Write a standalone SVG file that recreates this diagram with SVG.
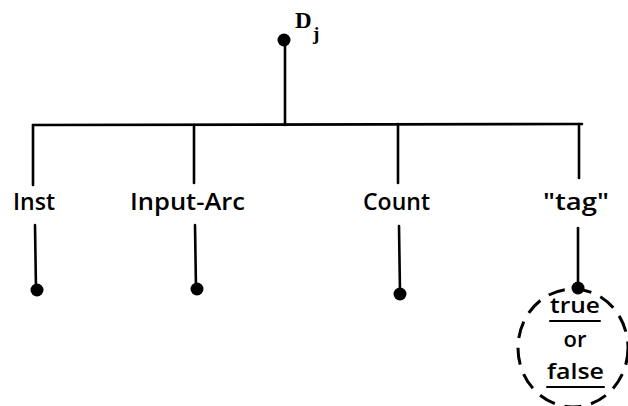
<svg xmlns="http://www.w3.org/2000/svg" width="628" height="406" viewBox="0 0 628 406">
<style>
.ln{stroke:#000;stroke-width:2.6;fill:none;stroke-linecap:round}
.dot{fill:#000}
.t{font-family:"Open Sans","Liberation Sans",Arial,sans-serif;font-size:24px;font-weight:600;fill:#000}
.v{font-size:22px}
.s{font-family:"Liberation Serif","Times New Roman",serif;font-weight:bold;fill:#000}
.dash{stroke:#000;stroke-width:3;fill:none;stroke-dasharray:17 10}
</style>
<rect width="628" height="406" fill="#fff"/>
<g id="connectors">
<line class="ln" x1="285" y1="41" x2="285" y2="125"/>
<line class="ln" x1="33" y1="125" x2="582" y2="124"/>
<line class="ln" x1="33" y1="125" x2="33" y2="185"/>
<line class="ln" x1="194" y1="125" x2="194" y2="183"/>
<line class="ln" x1="398" y1="124" x2="398" y2="183"/>
<line class="ln" x1="579" y1="124" x2="579" y2="178"/>
<line class="ln" x1="35" y1="225" x2="36" y2="290"/>
<line class="ln" x1="195" y1="225" x2="196" y2="289"/>
<line class="ln" x1="399" y1="226" x2="400" y2="293"/>
<line class="ln" x1="578" y1="228" x2="578" y2="288"/>
</g>
<g id="root">
<circle class="dot" cx="284" cy="40" r="6.5"/>
<text class="s" x="295" y="28" style="font-size:23px">D</text>
<text class="s" x="313" y="40" style="font-size:19px">j</text>
</g>
<g id="inst">
<text class="t" x="13" y="210" textLength="42" lengthAdjust="spacingAndGlyphs">Inst</text>
<circle class="dot" cx="37" cy="290" r="6.5"/>
</g>
<g id="input-arc">
<text class="t" x="130" y="210" textLength="115" lengthAdjust="spacingAndGlyphs">Input-Arc</text>
<circle class="dot" cx="197" cy="289" r="6.5"/>
</g>
<g id="count">
<text class="t" x="363" y="210" textLength="67" lengthAdjust="spacingAndGlyphs">Count</text>
<circle class="dot" cx="400" cy="294" r="6.5"/>
</g>
<g id="tag">
<text class="t" x="543" y="210" textLength="66" lengthAdjust="spacingAndGlyphs">"tag"</text>
<circle class="dot" cx="578" cy="288" r="6.5"/>
</g>
<g id="value">
<ellipse class="dash" cx="573" cy="348" rx="55" ry="59"/>
<text class="t v" x="550" y="313" textLength="50" lengthAdjust="spacingAndGlyphs">true</text>
<line class="ln" x1="550" y1="321" x2="600" y2="321" style="stroke-width:2"/>
<text class="t v" x="575" y="347" text-anchor="middle">or</text>
<text class="t v" x="547" y="379" textLength="57" lengthAdjust="spacingAndGlyphs">false</text>
<line class="ln" x1="547" y1="387" x2="604" y2="387" style="stroke-width:2"/>
</g>
</svg>
